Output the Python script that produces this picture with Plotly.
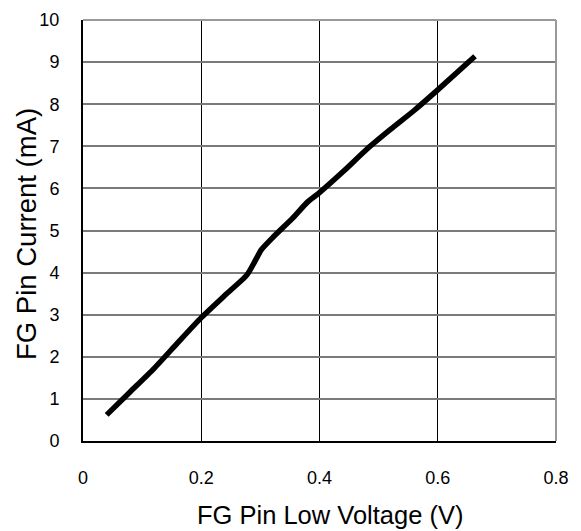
import plotly.graph_objects as go

voltage = [0.04, 0.08, 0.12, 0.16, 0.2, 0.24, 0.277, 0.29, 0.302, 0.32, 0.355, 0.38, 0.40, 0.44, 0.48, 0.52, 0.56, 0.60, 0.663]
current = [0.62, 1.17, 1.72, 2.33, 2.93, 3.46, 3.94, 4.25, 4.55, 4.82, 5.3, 5.68, 5.9, 6.4, 6.93, 7.4, 7.85, 8.34, 9.14]

x_ticks = [0, 0.2, 0.4, 0.6, 0.8]
x_ticklabels = ["0", "0.2", "0.4", "0.6", "0.8"]
y_ticks = list(range(0, 11))
x_title = "FG Pin Low Voltage (V)"
y_title = "FG Pin Current (mA)"

fig = go.Figure()
fig.add_trace(go.Scatter(x=voltage, y=current, mode="lines",
                         line=dict(color="black", width=5.5, shape="spline", smoothing=0.6),
                         showlegend=False, hoverinfo="skip"))

font = dict(family="Liberation Sans, Arial, sans-serif", color="black")
fig.update_layout(
    width=581, height=531,
    margin=dict(l=83, r=25, t=20, b=90),
    paper_bgcolor="white", plot_bgcolor="white",
    font=dict(**font, size=18),
    xaxis=dict(range=[0, 0.8], tickvals=x_ticks, ticktext=x_ticklabels,
               showgrid=True, gridcolor="black", gridwidth=1,
               showline=True, linecolor="black", linewidth=2,
               zeroline=False, ticks="", ticklabelstandoff=19,
               tickfont=dict(size=18), automargin=False),
    yaxis=dict(range=[0, 10], tickvals=y_ticks,
               showgrid=True, gridcolor="#7a7a7a", gridwidth=1.5,
               showline=True, linecolor="black", linewidth=2,
               zeroline=False, ticks="", ticklabelstandoff=18,
               tickfont=dict(size=18), automargin=False),
    annotations=[
        dict(text=x_title, xref="paper", yref="paper", x=0.522, y=-0.1758,
             xanchor="center", yanchor="middle", showarrow=False,
             font=dict(size=25.5)),
        dict(text=y_title, xref="paper", yref="paper", x=-0.1184, y=0.4917,
             xanchor="center", yanchor="middle", showarrow=False, textangle=-90,
             font=dict(size=27.5)),
    ],
)
fig.add_shape(type="line", xref="paper", yref="paper", x0=0, x1=1, y0=1, y1=1,
              line=dict(color="#999999", width=2))
fig.add_shape(type="line", xref="paper", yref="paper", x0=1, x1=1, y0=0, y1=1,
              line=dict(color="#999999", width=2))

fig.write_html("out.html", config={"displayModeBar": False},
               post_script="document.body.style.margin='0';")
